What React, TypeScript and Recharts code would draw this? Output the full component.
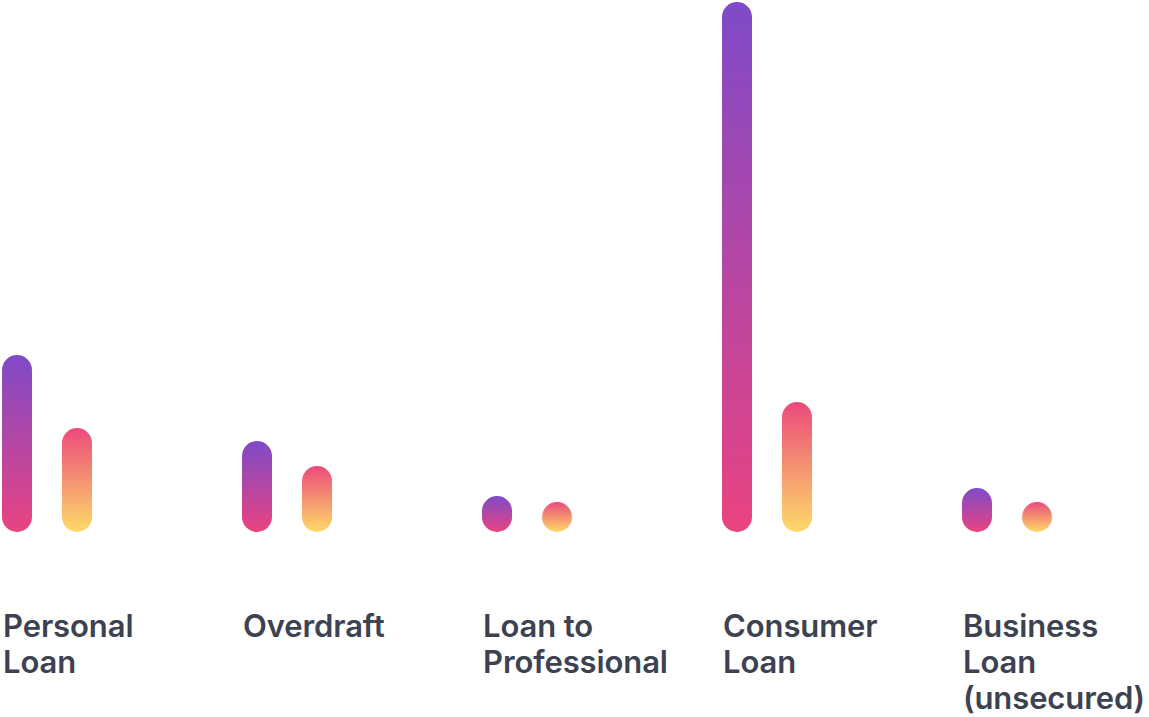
import React from "react";
import { BarChart, Bar, XAxis, YAxis } from "recharts";

const categories = [
  "Personal Loan",
  "Overdraft",
  "Loan to Professional",
  "Consumer Loan",
  "Business Loan (unsecured)",
];
const labelLines = [
  ["Personal", "Loan"],
  ["Overdraft"],
  ["Loan to", "Professional"],
  ["Consumer", "Loan"],
  ["Business", "Loan", "(unsecured)"],
];
const firstSeries = [177, 91, 36, 530, 44];
const secondSeries = [104, 66, 30, 130, 30];

const data = categories.map((name, i) => ({
  name,
  first: firstSeries[i],
  second: secondSeries[i],
}));

function CategoryTick({ x, y, index }: any) {
  const lines = labelLines[index] || [];
  return (
    <text
      x={x - 44}
      y={y + 105}
      fill="#3c4252"
      fontFamily="Inter, 'Noto Sans', sans-serif"
      fontWeight={600}
      fontSize={31}
      letterSpacing={-0.1}
    >
      {lines.map((line, i) => (
        <tspan key={i} x={x - 44} dy={i === 0 ? 0 : 36}>
          {line}
        </tspan>
      ))}
    </text>
  );
}

export default function App() {
  return (
    <div
      style={{
        position: "absolute",
        left: 0,
        top: 0,
        width: 1149,
        height: 717,
        overflow: "hidden",
        background: "#fff",
      }}
    >
      <div style={{ marginLeft: -73 }}>
        <BarChart
          width={1222}
          height={717}
          data={data}
          margin={{ top: 2, right: 22, bottom: 0, left: 0 }}
          barSize={30}
          barGap={30}
          barCategoryGap={0}
        >
          <defs>
            <linearGradient id="gradFirst" x1="0" y1="0" x2="0" y2="1">
              <stop offset="0%" stopColor="#7f4ac8" />
              <stop offset="100%" stopColor="#ea4380" />
            </linearGradient>
            <linearGradient id="gradSecond" x1="0" y1="0" x2="0" y2="1">
              <stop offset="0%" stopColor="#ec4a7b" />
              <stop offset="100%" stopColor="#fdda69" />
            </linearGradient>
          </defs>
          <XAxis
            dataKey="name"
            axisLine={false}
            tickLine={false}
            tickSize={0}
            tickMargin={0}
            height={185}
            interval={0}
            tick={<CategoryTick />}
          />
          <YAxis hide domain={[0, 530]} />
          <Bar
            dataKey="first"
            fill="url(#gradFirst)"
            radius={15}
            isAnimationActive={false}
          />
          <Bar
            dataKey="second"
            fill="url(#gradSecond)"
            radius={15}
            isAnimationActive={false}
          />
        </BarChart>
      </div>
    </div>
  );
}
